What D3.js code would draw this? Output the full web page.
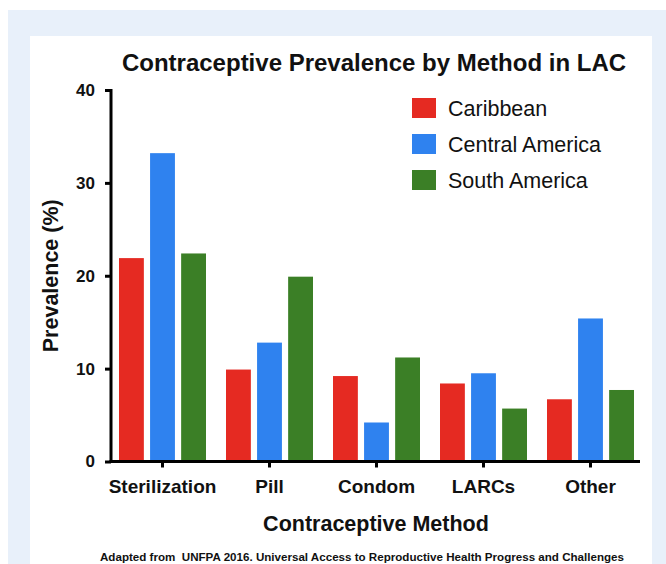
<!DOCTYPE html>
<html lang="en">
<head>
<meta charset="UTF-8">
<title>Contraceptive Prevalence by Method in LAC</title>
<script src="https://d3js.org/d3.v7.min.js"></script>
<style>
  body { margin: 0; background: #fff; }
  svg { display: block; font-family: "Liberation Sans", Arial, sans-serif; }
</style>
</head>
<body>
<div id="chart"></div>
<script>
// Data
const methods = ["Sterilization", "Pill", "Condom", "LARCs", "Other"];
const regions = ["Caribbean", "Central America", "South America"];
const caribbean = [21.9, 9.9, 9.2, 8.4, 6.7];
const centralAmerica = [33.2, 12.8, 4.2, 9.5, 15.4];
const southAmerica = [22.4, 19.9, 11.2, 5.7, 7.7];
const yTicks = [0, 10, 20, 30, 40];
const colors = ["#e52a22", "#2f82ef", "#3b7f26"];

const series = [caribbean, centralAmerica, southAmerica];
const rows = methods.map((m, i) => ({
    method: m,
    values: regions.map((r, j) => ({ region: r, value: series[j][i] }))
}));

const W = 666, H = 564;
const svg = d3.select("#chart").append("svg")
    .attr("width", W).attr("height", H);

// backgrounds
svg.append("rect").attr("x", 8).attr("y", 10).attr("width", W - 8).attr("height", H - 10)
    .attr("fill", "#e8f0fa");
svg.append("rect").attr("x", 30).attr("y", 36).attr("width", 622).attr("height", H - 36)
    .attr("fill", "#fff");

const axisX = 111, axisRight = 640;
const y = d3.scaleLinear().domain([0, 40]).range([461.5, 90]);
const x0 = d3.scaleBand().domain(methods).range([109, 644]);
const x1 = d3.scaleBand().domain(regions).range([0, 87]).paddingInner(0.2);
const xOff = (x0.bandwidth() - 87) / 2;

// bars
const g = svg.append("g");
g.selectAll("g.grp")
    .data(rows)
    .enter().append("g")
    .attr("class", "grp")
    .attr("transform", d => `translate(${x0(d.method) + xOff},0)`)
    .selectAll("rect")
    .data(d => d.values)
    .enter().append("rect")
    .attr("x", d => x1(d.region))
    .attr("width", x1.bandwidth())
    .attr("y", d => y(d.value))
    .attr("height", d => y(0) - y(d.value))
    .attr("fill", (d, i) => colors[i]);

// y axis
const yAxis = svg.append("g")
    .attr("transform", `translate(${axisX},0)`)
    .call(d3.axisLeft(y).tickValues(yTicks).tickSize(6).tickSizeOuter(0).tickPadding(10));
yAxis.select(".domain").attr("stroke-width", 3).attr("d", `M0,${y(40) - 1}V${y(0)}`);
yAxis.selectAll(".tick line").attr("stroke-width", 3);
yAxis.selectAll(".tick text")
    .attr("font-size", 17).attr("font-weight", "bold").attr("fill", "#111")
    .attr("font-family", "Liberation Sans, Arial, sans-serif");

// x axis
const xAxis = svg.append("g")
    .attr("transform", `translate(0,${y(0)})`)
    .call(d3.axisBottom(x0).tickSize(6).tickSizeOuter(0).tickPadding(12));
xAxis.select(".domain").attr("stroke-width", 3).attr("d", `M${axisX - 1.5},0H${axisRight}`);
xAxis.selectAll(".tick line").attr("stroke-width", 3);
xAxis.selectAll(".tick text")
    .attr("font-size", 19).attr("font-weight", "bold").attr("fill", "#111")
    .attr("font-family", "Liberation Sans, Arial, sans-serif");

// title and axis titles
svg.append("text").attr("x", 374).attr("y", 71)
    .attr("text-anchor", "middle").attr("font-size", 24).attr("font-weight", "bold")
    .attr("fill", "#111").text("Contraceptive Prevalence by Method in LAC");

svg.append("text").attr("x", 376).attr("y", 531)
    .attr("text-anchor", "middle").attr("font-size", 21.5).attr("font-weight", "bold")
    .attr("fill", "#111").text("Contraceptive Method");

svg.append("text")
    .attr("transform", `translate(58,${(y(0) + y(40)) / 2}) rotate(-90)`)
    .attr("text-anchor", "middle").attr("font-size", 21.5).attr("font-weight", "bold")
    .attr("fill", "#111").text("Prevalence (%)");

svg.append("text").attr("x", 362).attr("y", 561)
    .attr("text-anchor", "middle").attr("font-size", 11.6).attr("font-weight", "bold")
    .attr("fill", "#111")
    .text("Adapted from \u00a0UNFPA 2016. Universal Access to Reproductive Health Progress and Challenges");

// legend
const legend = svg.append("g").attr("transform", "translate(412,98)");
const item = legend.selectAll("g")
    .data(regions)
    .enter().append("g")
    .attr("transform", (d, i) => `translate(0,${i * 36})`);
item.append("rect").attr("width", 24).attr("height", 20)
    .attr("fill", (d, i) => colors[i]);
item.append("text").attr("x", 36).attr("y", 17.5)
    .attr("font-size", 21.5).attr("fill", "#111").text(d => d);
</script>
</body>
</html>
